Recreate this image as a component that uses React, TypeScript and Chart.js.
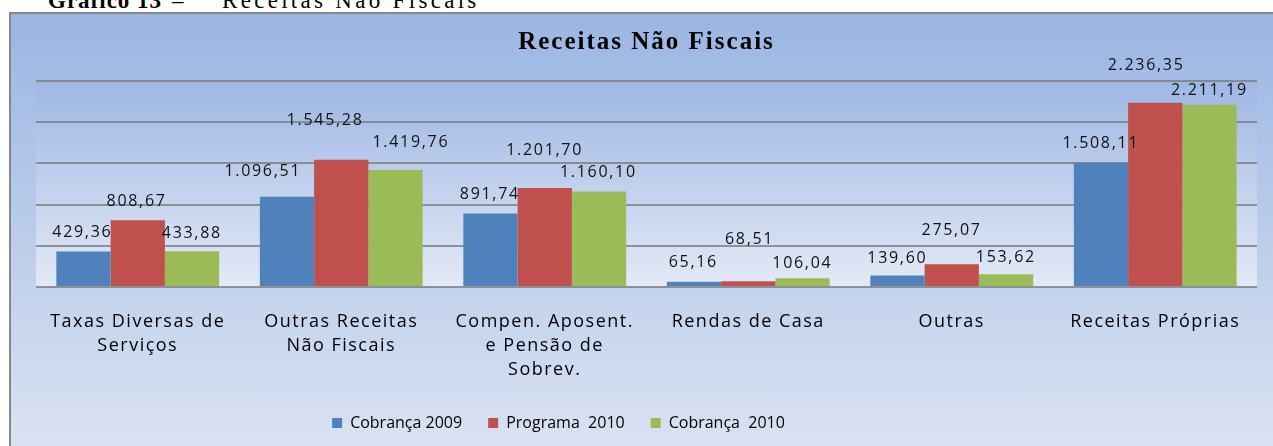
import React, { useEffect, useRef } from 'react';
import { Chart, registerables } from 'chart.js';

Chart.register(...registerables);

// ---------- data ----------
const categories: string[][] = [
  ['Taxas Diversas de', 'Serviços'],
  ['Outras Receitas', 'Não Fiscais'],
  ['Compen. Aposent.', 'e Pensão de', 'Sobrev.'],
  ['Rendas de Casa'],
  ['Outras'],
  ['Receitas Próprias'],
];
const seriesNames = ['Cobrança 2009', 'Programa  2010', 'Cobrança  2010'];
const cobranca2009 = [429.36, 1096.51, 891.74, 65.16, 139.6, 1508.11];
const programa2010 = [808.67, 1545.28, 1201.7, 68.51, 275.07, 2236.35];
const cobranca2010 = [433.88, 1419.76, 1160.1, 106.04, 153.62, 2211.19];
const yTicks = [0, 500, 1000, 1500, 2000, 2500];

// ---------- styles ----------
const seriesColors = ['#4F81BD', '#C0504D', '#9BBB59'];
// label nudges [dx, dy] relative to the top centre of each bar
const labelNudges: number[][][] = [
  [[-2, -19], [-25, -25], [-1.5, -19], [-1.5, -19], [-1, -17.5], [-1, -19]],
  [[-2, -19], [-17, -39], [-1, -37.5], [0.5, -42], [-1, -34], [-10, -37]],
  [[-1, -18], [14.5, -28], [-1.5, -19], [-1, -15], [-1, -17], [-1, -14]],
];
const LEGEND_SHIFT = -88;
const TICK_SPACING = 1.5;
const LABEL_SPACING = 1.7;
const X_AXIS_HEIGHT = 102;

function fmtBR(v: number): string {
  const [i, d] = v.toFixed(2).split('.');
  return i.replace(/\B(?=(\d{3})+(?!\d))/g, '.') + ',' + d;
}

const decorPlugin = {
  id: 'decor',
  afterInit(chart: any) {
    const tb = chart.titleBlock;
    if (tb) {
      const orig = tb.draw.bind(tb);
      tb.draw = (area: any) => {
        chart.ctx.letterSpacing = '2px';
        orig(area);
        chart.ctx.letterSpacing = '0px';
      };
    }
  },
  beforeLayout(chart: any) {
    chart.ctx.letterSpacing = '0px';
  },
  afterLayout(chart: any) {
    const lg = chart.legend;
    if (lg) {
      lg.left += LEGEND_SHIFT;
      lg.right += LEGEND_SHIFT;
    }
  },
  beforeDraw(chart: any) {
    const { ctx, chartArea } = chart;
    ctx.letterSpacing = '0px';
    const g = ctx.createLinearGradient(0, chartArea.top, 0, chartArea.bottom);
    g.addColorStop(0, 'rgb(158,183,228)');
    g.addColorStop(1, 'rgb(227,233,246)');
    ctx.save();
    ctx.fillStyle = g;
    ctx.fillRect(chartArea.left, chartArea.top, chartArea.right - chartArea.left, chartArea.bottom - chartArea.top);
    ctx.restore();
  },
  afterDatasetsDraw(chart: any) {
    const { ctx } = chart;
    ctx.save();
    ctx.letterSpacing = LABEL_SPACING + 'px';
    ctx.font = '16px "Open Sans"';
    ctx.fillStyle = '#111';
    ctx.textAlign = 'center';
    ctx.textBaseline = 'middle';
    chart.data.datasets.forEach((ds: any, di: number) => {
      const meta = chart.getDatasetMeta(di);
      meta.data.forEach((bar: any, i: number) => {
        const [dx, dy] = labelNudges[di][i];
        ctx.fillText(fmtBR(ds.data[i]), bar.x + dx + LABEL_SPACING / 2, bar.y + dy);
      });
    });
    ctx.restore();
    ctx.letterSpacing = TICK_SPACING + 'px';
  },
  afterDraw(chart: any) {
    chart.ctx.letterSpacing = '0px';
  },
};

export default function App() {
  const ref = useRef<HTMLCanvasElement | null>(null);

  useEffect(() => {
    document.body.style.margin = '0';
    if (!ref.current) return;
    const chart = new Chart(ref.current, {
      type: 'bar',
      data: {
        labels: categories,
        datasets: [cobranca2009, programa2010, cobranca2010].map((d, k) => ({
          label: seriesNames[k],
          data: d,
          backgroundColor: seriesColors[k],
          borderWidth: 0,
          categoryPercentage: 0.8,
          barPercentage: 1.0,
        })),
      },
      options: {
        responsive: false,
        animation: false,
        layout: { padding: { left: 36, right: 16, top: 30, bottom: 5 } },
        plugins: {
          title: {
            display: true,
            text: 'Receitas Não Fiscais',
            color: '#000',
            font: { family: '"Liberation Serif", serif', size: 25, weight: 'bold', lineHeight: 1.0 },
            padding: { top: 0, bottom: 26 },
          },
          legend: {
            position: 'bottom',
            labels: {
              color: '#000',
              font: { family: '"Open Sans"', size: 16 },
              boxWidth: 10,
              boxHeight: 10,
              padding: 26,
            },
          },
          tooltip: { enabled: false },
        },
        scales: {
          x: {
            grid: { display: false },
            border: { display: false },
            ticks: {
              z: 1,
              color: '#000',
              font: { family: '"Open Sans"', size: 18, lineHeight: 1.333 },
              padding: 15,
              maxRotation: 0,
              minRotation: 0,
              autoSkip: false,
            },
            afterFit: (s: any) => {
              s.height = X_AXIS_HEIGHT;
            },
          },
          y: {
            min: 0,
            max: 2500,
            afterBuildTicks: (s: any) => {
              s.ticks = yTicks.map((v) => ({ value: v }));
            },
            ticks: { display: false },
            border: { display: false },
            grid: { color: 'rgba(125,125,125,0.8)', lineWidth: 2, drawTicks: false },
          },
        },
      },
      plugins: [decorPlugin],
    } as any);
    return () => chart.destroy();
  }, []);

  return (
    <div style={{ position: 'relative', width: 1273, height: 446, overflow: 'hidden', background: '#fff' }}>
      <div
        style={{
          position: 'absolute',
          left: 0,
          top: -11,
          whiteSpace: 'pre',
          fontFamily: '"Liberation Serif", serif',
          fontSize: 23,
          lineHeight: '23px',
          letterSpacing: '1px',
          color: '#000',
        }}
      >
        <span style={{ position: 'absolute', left: 48, fontWeight: 'bold' }}>Gráfico 13</span>
        <span style={{ position: 'absolute', left: 172 }}>–</span>
        <span style={{ position: 'absolute', left: 222, letterSpacing: '3.3px' }}>Receitas Não Fiscais</span>
      </div>
      <div
        style={{
          position: 'absolute',
          left: 9,
          top: 12,
          width: 1300,
          height: 460,
          borderLeft: '2px solid #878787',
          borderTop: '2px solid #878787',
          background: 'linear-gradient(180deg, rgb(155,182,227) 0%, rgb(222,229,243) 100%)',
        }}
      />
      <canvas
        ref={ref}
        width={1273}
        height={446}
        style={{ position: 'absolute', left: 0, top: 0, width: 1273, height: 446 }}
      />
    </div>
  );
}
